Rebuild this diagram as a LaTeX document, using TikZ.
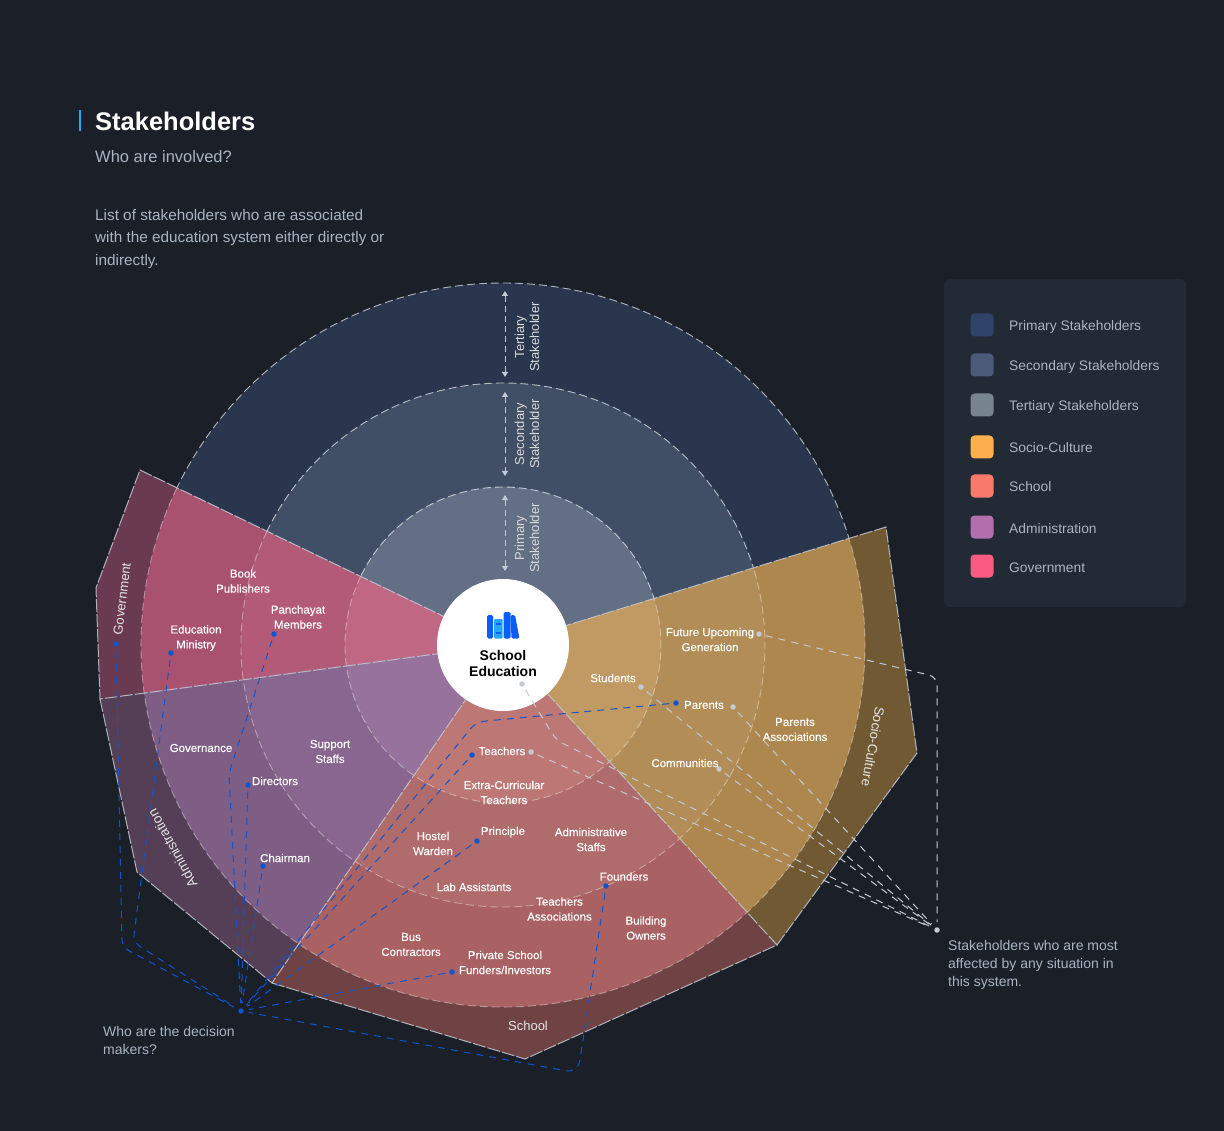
\documentclass[tikz,border=0pt]{standalone}
\usepackage{fontspec}
\setmainfont{Liberation Sans}
\newfontfamily\medf[FakeBold=0.25]{Liberation Sans}
\usetikzlibrary{arrows.meta}
\definecolor{bgc}{HTML}{1A1F28}
\definecolor{rgT}{HTML}{29364E}\definecolor{rgS}{HTML}{414F66}\definecolor{rgP}{HTML}{626F85}
\definecolor{goB}{HTML}{6A3A50}\definecolor{goT}{HTML}{A8526F}\definecolor{goS}{HTML}{B35A79}\definecolor{goP}{HTML}{C06783}
\definecolor{adB}{HTML}{543F57}\definecolor{adT}{HTML}{7F5E85}\definecolor{adS}{HTML}{89668F}\definecolor{adP}{HTML}{96729C}
\definecolor{scB}{HTML}{6F4344}\definecolor{scT}{HTML}{A96163}\definecolor{scS}{HTML}{B06B6C}\definecolor{scP}{HTML}{BD7775}
\definecolor{soB}{HTML}{705933}\definecolor{soT}{HTML}{AE874F}\definecolor{soS}{HTML}{B28D58}\definecolor{soP}{HTML}{C19A63}
\definecolor{edgec}{HTML}{C3CAD4}\definecolor{bluec}{HTML}{1155CC}\definecolor{greyt}{HTML}{AAB4C2}
\definecolor{panelc}{HTML}{222A36}\definecolor{iconb}{HTML}{0D5CF5}\definecolor{iconl}{HTML}{27A6F5}
\tikzset{
 x=1pt,y=1pt,
 lab/.style={text=white,font=\medf\fontsize{11.5}{15}\selectfont,align=center,inner sep=0pt},
 bandlab/.style={text=white!90!black,font=\fontsize{13}{15}\selectfont,align=center,inner sep=0pt},
 note/.style={text=greyt,font=\fontsize{14}{18}\selectfont,align=left,inner sep=0pt,anchor=north west},
 leg/.style={text=greyt,font=\fontsize{13.8}{17}\selectfont,inner sep=0pt,anchor=base west},
 swatch/.style={rounded corners=4pt,minimum size=23pt,inner sep=0pt,anchor=center},
 bdot/.style={circle,fill=bluec,minimum size=5.5pt,inner sep=0pt},
 wdot/.style={circle,fill=edgec,minimum size=5.5pt,inner sep=0pt},
 bline/.style={bluec,dash pattern=on 7pt off 6pt,line width=1pt,rounded corners=8pt,shorten >=5pt,shorten <=4pt},
 wline/.style={edgec,dash pattern=on 7pt off 6pt,line width=1pt,rounded corners=8pt,shorten >=5pt,shorten <=4pt},
 ring/.style={white,opacity=.65,dash pattern=on 8pt off 4pt,line width=.9pt},
 sring/.style={white,opacity=.4,dash pattern=on 8pt off 4pt,line width=.9pt},
 sep/.style={edgec,opacity=.85,dash pattern=on 13pt off 2pt,line width=1pt},
 vlab/.style={text=white!85!black,font=\fontsize{13}{15}\selectfont,align=center,inner sep=0pt,rotate=90},
 varrow/.style={edgec,dash pattern=on 6pt off 4pt,line width=.8pt,{Triangle[length=5pt,width=6pt]}-{Triangle[length=5pt,width=6pt]}},
}
\newcommand{\sect}[4]{\fill[fill=#1] (cen) -- ++(#2:#4) arc[start angle=#2,end angle=#3,radius=#4] -- cycle;}
\newcommand{\rarc}[4][ring]{\draw[#1] (cen) ++(#2:#4) arc[start angle=#2,end angle=#3,radius=#4];}
\begin{document}
\begin{tikzpicture}
\fill[bgc] (0,0) rectangle (1224,-1131);
\useasboundingbox (0,0) rectangle (1224,-1131);
\coordinate (cen) at (503,-645);
% rings
\fill[rgT] (cen) circle[radius=362];
\fill[rgS] (cen) circle[radius=262];
\fill[rgP] (cen) circle[radius=158];
\rarc{-10}{190}{362}\rarc{-10}{190}{262}\rarc{-10}{190}{158}
% outer bands
\fill[goB] (140,-470)--(96,-588)--(100,-699)--(cen)--cycle;
\fill[adB] (100,-699)--(137,-872)--(272,-983)--(cen)--cycle;
\fill[scB] (272,-983)--(525,-1059)--(777,-945)--(cen)--cycle;
\fill[soB] (777,-945)--(917,-753)--(886,-527)--(cen)--cycle;
\def\Ga{154.3}\def\Gb{187.6}\def\Ab{235.6}\def\Sb{312.4}\def\Cb{377.1}
\sect{goT}{\Ga}{\Gb}{362}\sect{goS}{\Ga}{\Gb}{262}\sect{goP}{\Ga}{\Gb}{158}
\sect{adT}{\Gb}{\Ab}{362}\sect{adS}{\Gb}{\Ab}{262}\sect{adP}{\Gb}{\Ab}{158}
\sect{scT}{\Ab}{\Sb}{362}\sect{scS}{\Ab}{\Sb}{262}\sect{scP}{\Ab}{\Sb}{158}
\sect{soT}{\Sb}{\Cb}{362}\sect{soS}{\Sb}{\Cb}{262}\sect{soP}{\Sb}{\Cb}{158}
\foreach \R in {362,262,158}{\rarc[sring]{\Ga}{\Cb}{\R}}
% band outlines
\draw[sep] (cen)--(140,-470)--(96,-588)--(100,-699)--(cen);
\draw[sep] (100,-699)--(137,-872)--(272,-983)--(cen);
\draw[sep] (272,-983)--(525,-1059)--(777,-945)--(cen);
\draw[sep] (777,-945)--(917,-753)--(886,-527)--(cen);
% band labels
\node[bandlab,rotate=83] (lbgov) at (122,-599) {Government};
\node[bandlab,rotate=119,font=\fontsize{13.7}{15}\selectfont] (lbadm) at (172.5,-848.5) {Administration};
\node[bandlab] (lbsch) at (528,-1026) {School};
\node[bandlab,rotate=-100,font=\fontsize{13.3}{15}\selectfont] (lbsoc) at (873,-746.5) {Socio-Culture};
% centre
\node[circle,fill=white,minimum size=132pt,inner sep=0pt] (hubc) at (cen) {};
\fill[rounded corners=1.5pt,fill=iconb] (487,-615) rectangle (493,-638.5);
\fill[rounded corners=1pt,fill=iconl] (494,-619) rectangle (502.5,-638.5);
\fill[fill=iconb] (495.5,-623) rectangle (501,-624.5);
\fill[fill=iconb] (495.5,-632) rectangle (501,-633.5);
\fill[rounded corners=1.5pt,fill=iconb] (503.5,-612) rectangle (510.5,-638.5);
\fill[rounded corners=1.5pt,fill=iconb] (510.5,-615) -- (515,-615) -- (519.5,-638.5) -- (511.5,-638.5) -- cycle;
\node[font=\fontsize{14}{16}\selectfont\bfseries,align=center,text=black,inner sep=0pt] (ctitle) at (503,-663) {School\\Education};
% arrows
\coordinate (a1) at (505,-291);\coordinate (a2) at (505,-377);
\coordinate (a3) at (505,-392);\coordinate (a4) at (505,-476);
\coordinate (a5) at (505,-495);\coordinate (a6) at (505,-571);
\draw[varrow] (a1)--(a2);\draw[varrow] (a3)--(a4);\draw[varrow] (a5)--(a6);
\node[vlab] (v1) at (527,-337) {Tertiary\\Stakeholder};
\node[vlab] (v2) at (527,-434) {Secondary\\Stakeholder};
\node[vlab] (v3) at (527,-538) {Primary\\Stakeholder};
% dots
\node[bdot] (hb) at (241,-1011) {};
\node[wdot] (hw) at (937,-930) {};
\node[bdot] (d1) at (116,-644) {};
\node[bdot] (d2) at (171,-653) {};
\node[bdot] (d3) at (274,-634) {};
\node[bdot] (d4) at (248,-785) {};
\node[bdot] (d5) at (263,-866) {};
\node[bdot] (d6) at (472,-755) {};
\node[bdot] (d7) at (676,-703) {};
\node[bdot] (d8) at (477,-841) {};
\node[bdot] (d9) at (452,-972) {};
\node[bdot] (d10) at (606,-886) {};
\node[wdot] (w1) at (759,-634) {};
\node[wdot] (w2) at (733,-707) {};
\node[wdot] (w3) at (641,-687) {};
\node[wdot] (w4) at (719,-769) {};
\node[wdot] (w5) at (531,-752) {};
\node[wdot] (w6) at (522,-684) {};
% connectors
\draw[wline] (w1) -- (937,-677) -- (hw);
\draw[wline] (w2) -- (hw);
\draw[wline] (w3) -- (hw);
\draw[wline] (w4) -- (hw);
\draw[wline] (w5) -- (hw);
\draw[wline] (w6) -- (556,-740) -- (hw);
\draw[bline] (d1) -- (122,-947) -- (hb);
\draw[bline] (d2) -- (133,-942) -- (hb);
\draw[bline] (d3) -- (229,-773) -- (hb);
\draw[bline] (d4) -- (hb);
\draw[bline] (d5) -- (254,-925) -- (hb);
\draw[bline] (d6) -- (hb);
\draw[bline] (d7) -- (476,-722) -- (hb);
\draw[bline] (d8) -- (hb);
\draw[bline] (d9) -- (hb);
\draw[bline,rounded corners=12pt] (d10) -- (578,-1073) -- (hb);
% labels
\node[lab] (l1) at (243,-581) {Book\\Publishers};
\node[lab] (l2) at (298,-617) {Panchayat\\Members};
\node[lab] (l3) at (196,-638) {Education\\Ministry};
\node[lab] (l4) at (201,-748) {Governance};
\node[lab] (l5) at (330,-751.5) {Support\\Staffs};
\node[lab] (l6) at (275,-781) {Directors};
\node[lab] (l7) at (285,-858) {Chairman};
\node[lab] (l8) at (502,-751) {Teachers};
\node[lab] (l9) at (504,-792.5) {Extra-Curricular\\Teachers};
\node[lab] (l10) at (433,-843.5) {Hostel\\Warden};
\node[lab] (l11) at (503,-832) {Principle};
\node[lab] (l12) at (591,-839.5) {Administrative\\Staffs};
\node[lab] (l13) at (474,-887) {Lab Assistants};
\node[lab] (l14) at (624,-876.5) {Founders};
\node[lab] (l15) at (559.5,-909) {Teachers\\Associations};
\node[lab] (l16) at (646,-928) {Building\\Owners};
\node[lab] (l17) at (411,-944.5) {Bus\\Contractors};
\node[lab] (l18) at (505,-962.5) {Private School\\Funders/Investors};
\node[lab] (l19) at (613,-678) {Students};
\node[lab] (l20) at (710,-639.5) {Future Upcoming\\Generation};
\node[lab] (l21) at (704,-705) {Parents};
\node[lab] (l22) at (795,-729.5) {Parents\\Associations};
\node[lab] (l23) at (685,-763) {Communities};
% notes
\node[note] (n1) at (103,-1026) {Who are the decision\\makers?};
\node[note] (n2) at (948,-940.5) {Stakeholders who are most\\affected by any situation in\\this system.};
% header
\draw[color=iconl,line width=2pt] (80,-110)--(80,-131);
\node[anchor=west,text=white,font=\fontsize{25.5}{30}\selectfont\bfseries,inner sep=0pt] (title) at (95,-121) {Stakeholders};
\node[anchor=west,text=greyt,font=\fontsize{16.5}{20}\selectfont,inner sep=0pt] (sub) at (95,-157) {Who are involved?};
\node[note,font=\fontsize{15.3}{22.7}\selectfont] (desc) at (95,-209) {List of stakeholders who are associated\\with the education system either directly or\\indirectly.};
% legend
\fill[fill=panelc,rounded corners=6pt] (944,-279) rectangle (1186,-607);
\foreach \nm/\yy/\col/\txt in {p/325/2F4468/Primary Stakeholders,q/365/4B5A78/Secondary Stakeholders,r/405/78848F/Tertiary Stakeholders,s/447/FBB04D/Socio-Culture,t/486/F97A6B/School,u/527/B26FAE/Administration,v/566/FA5B80/Government}{
 \definecolor{tmpc}{HTML}{\col}
 \node[swatch,fill=tmpc] (sw\nm) at (982,-\yy) {};
 \node[leg] (tx\nm) at (1009,-\yy-6) {\txt};
}
\end{tikzpicture}
\end{document}
